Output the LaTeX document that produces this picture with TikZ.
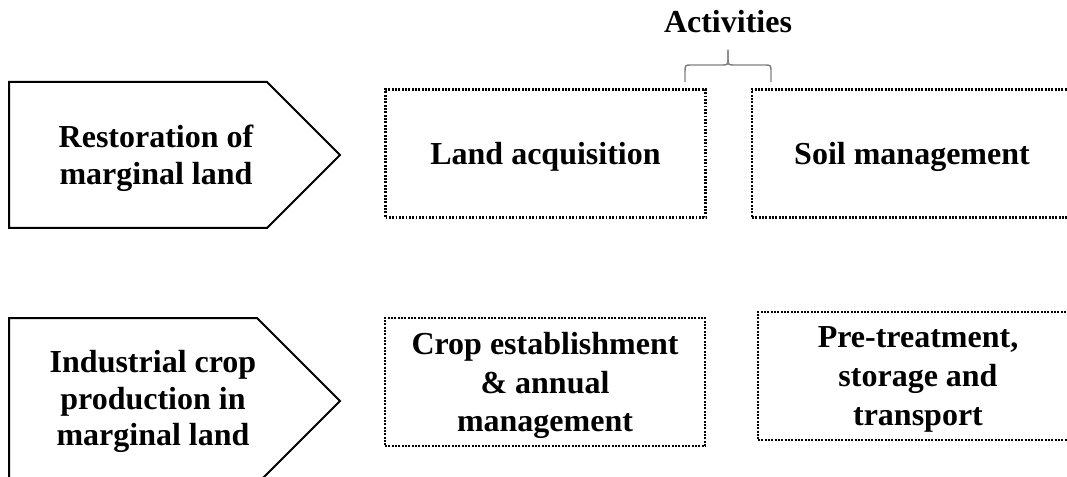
\documentclass[tikz,border=0pt]{standalone}
\usepackage{fontspec}
\setmainfont{Liberation Serif}
\usepackage{tikz}

\begin{document}
\begin{tikzpicture}[x=0.75pt, y=-0.75pt,
    every node/.style={font=\fontsize{24}{27.5}\selectfont\bfseries, align=center, inner sep=0pt, text depth=0pt},
    activity/.style={draw, line width=1.6pt, dash pattern=on 1.4pt off 1.1pt,
      minimum width=240pt, minimum height=96pt, font=\fontsize{24}{28.9}\selectfont\bfseries},
    stage/.style={draw, line width=1.5pt, line join=miter},
    bracket/.style={draw=gray, line width=1.1pt}]
     \useasboundingbox (0,0) rectangle (1067,477);
     \clip (0,0) rectangle (1067,477);

     % stages
     \draw[stage] (9,82) -- (267,82) -- (340,155) -- (267,228) -- (9,228) -- cycle;
     \draw[stage] (9,318) -- (257,318) -- (340,401) -- (257,484) -- (9,484) -- cycle;
     \node (restore) at (156,155) {Restoration of\\marginal land};
     \node (industry) at (153,398) {Industrial crop\\production in\\marginal land};

     % activities
     \node[activity] (land) at (545.5,153.5) {Land acquisition};
     \node[activity] (soil) at (912,153.5) {Soil management};
     \node[activity] (crop) at (545,382) {Crop establishment\\\& annual\\management};
     \node[activity] (pretreat) at (918,376) {Pre-treatment,\\storage and\\transport};

     \node[anchor=base] (act) at (728,33) {Activities};
     \coordinate (bl) at (685,82);
     \coordinate (br) at (771,82);
     \coordinate (tip) at (728,50);
     \draw[bracket] (bl) -- (685,72) .. controls (685,65) .. (692,65) -- (721,65)
       .. controls (728,65) .. (728,58) -- (tip);
     \draw[bracket] (tip) -- (728,58) .. controls (728,65) .. (735,65) -- (764,65)
       .. controls (771,65) .. (771,72) -- (br);
    \end{tikzpicture}
\end{document}
